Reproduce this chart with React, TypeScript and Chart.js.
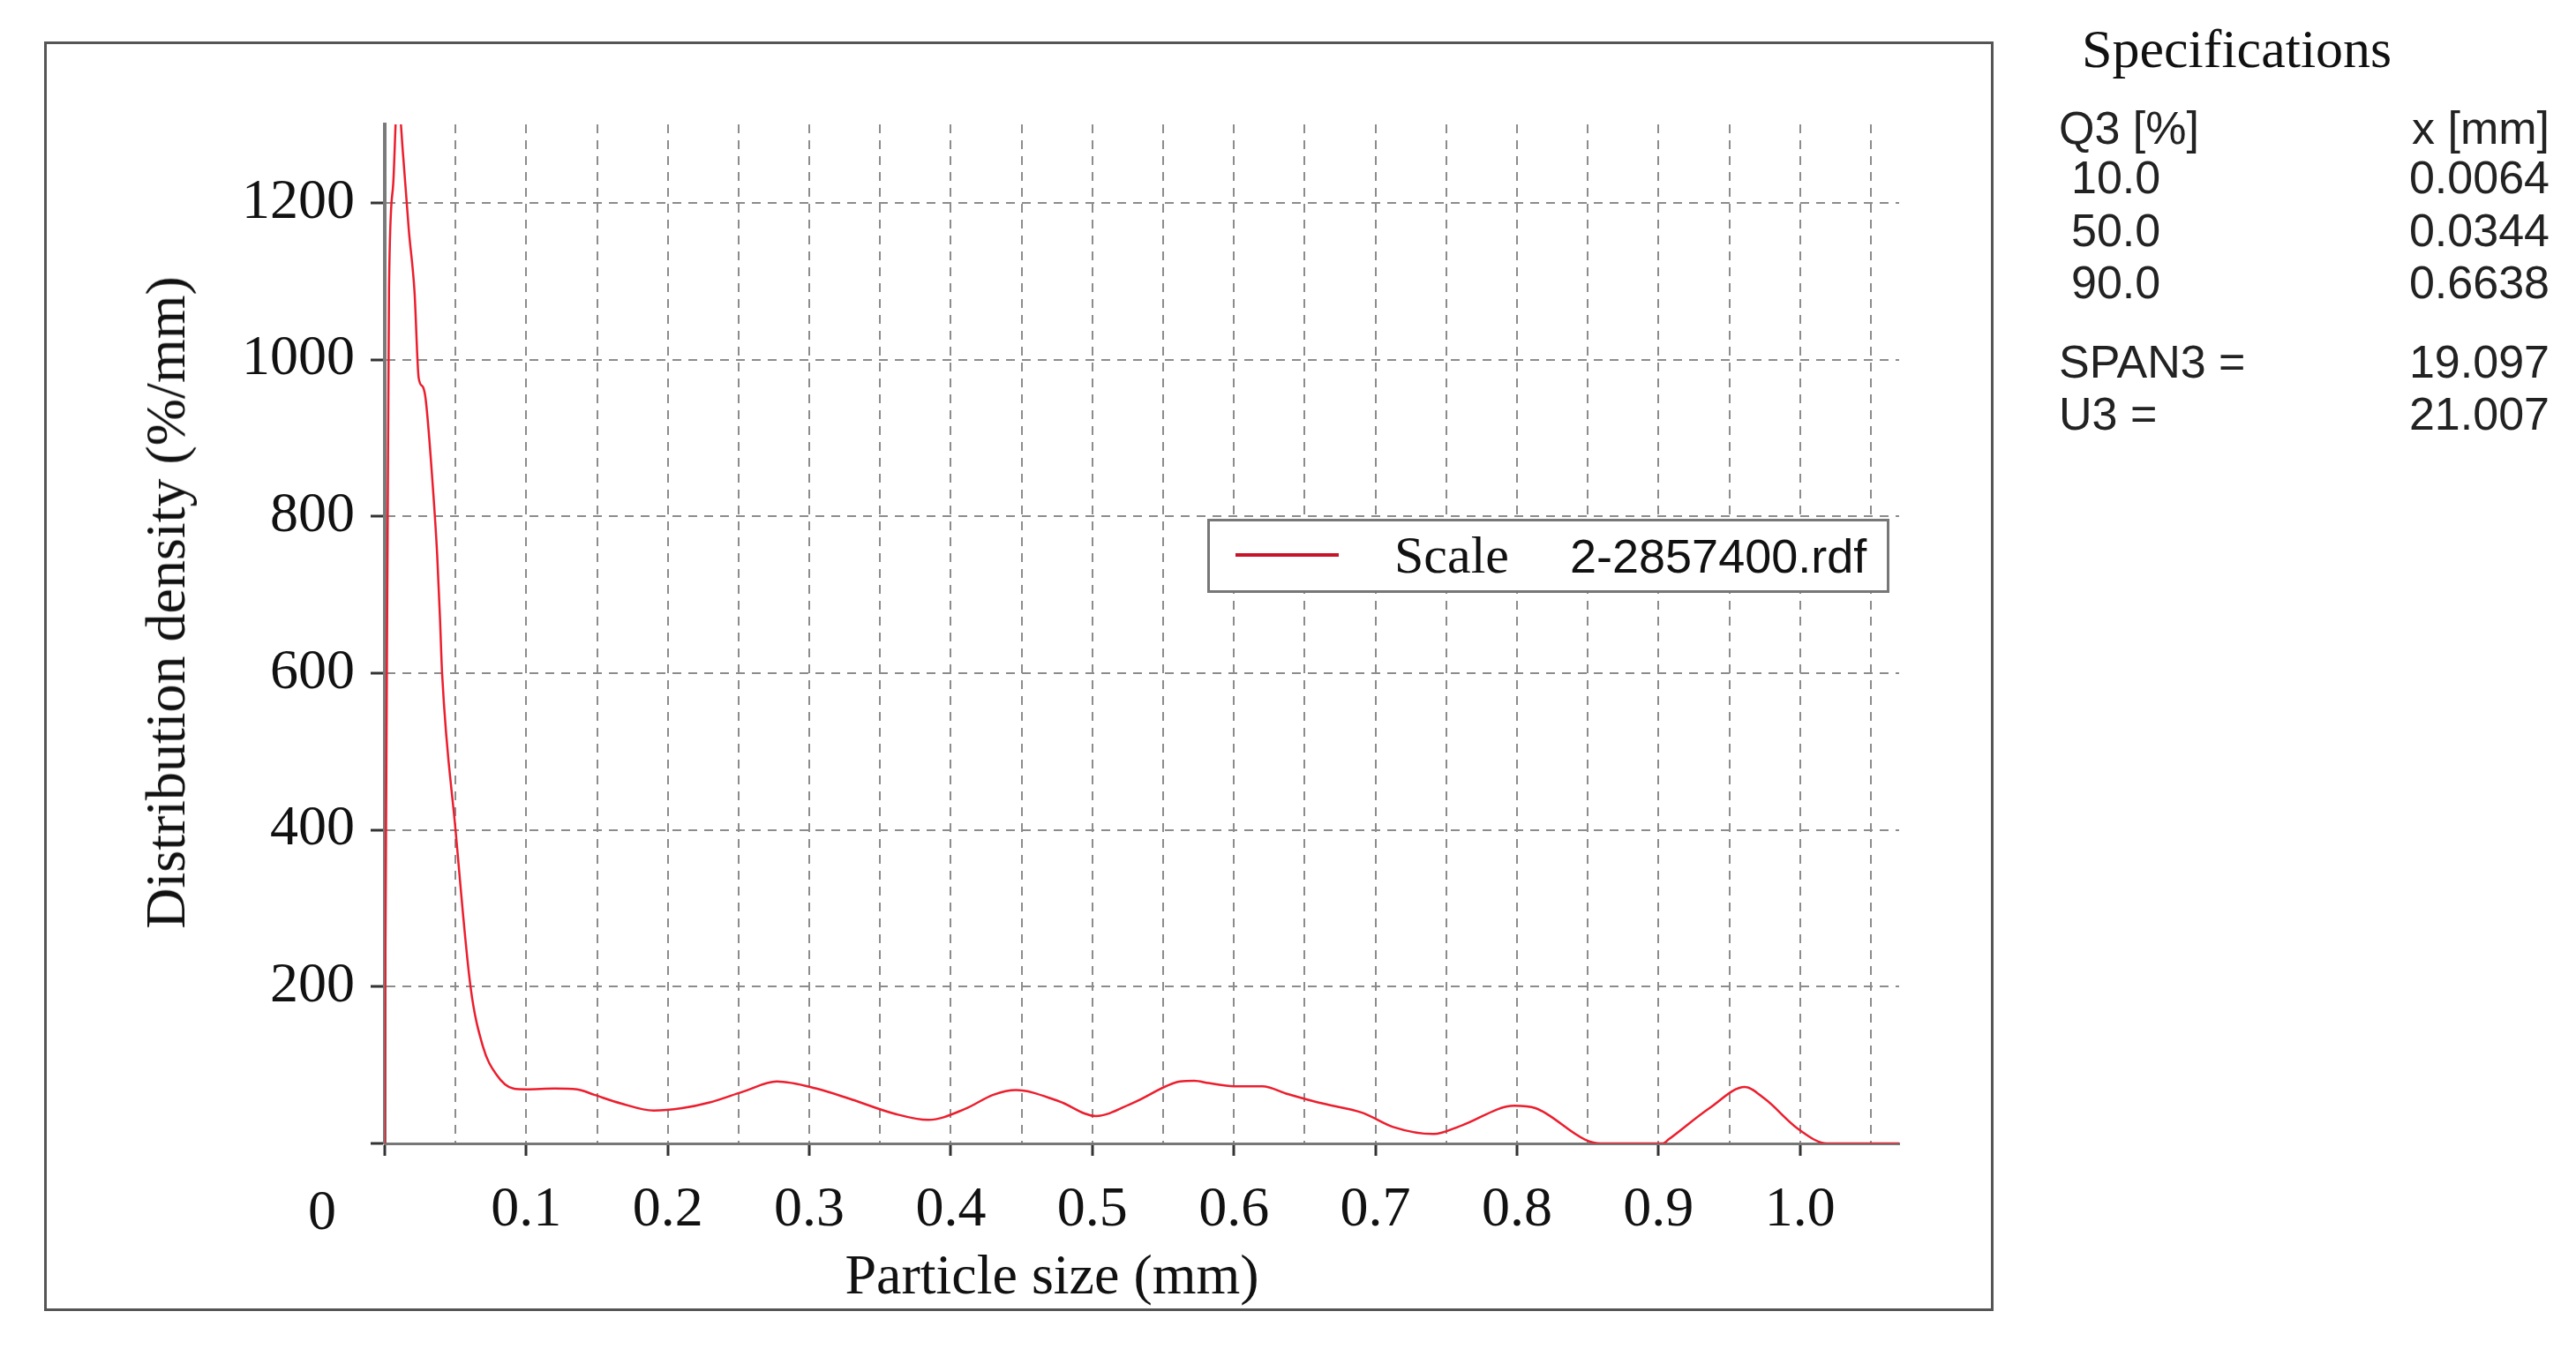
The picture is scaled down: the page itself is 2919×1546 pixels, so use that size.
import React, { useEffect, useRef } from 'react';
import { Chart, registerables } from 'chart.js';

Chart.register(...registerables);

// Particle size (mm)
const sizeMm = [
  0, 0.0005, 0.002, 0.003, 0.006, 0.009, 0.013, 0.017, 0.021, 0.024, 0.027, 0.029,
  0.034, 0.037, 0.039, 0.0405, 0.050, 0.0606, 0.0693, 0.0788, 0.0908, 0.10, 0.12,
  0.136, 0.148, 0.167, 0.19, 0.21, 0.229, 0.253, 0.277, 0.305, 0.33, 0.36, 0.384,
  0.41, 0.43, 0.446, 0.476, 0.5025, 0.529, 0.562, 0.572, 0.582, 0.60, 0.62, 0.638,
  0.66, 0.691, 0.7125, 0.741, 0.761, 0.798, 0.813, 0.848, 0.859, 0.903, 0.907,
  0.936, 0.961, 0.975, 0.999, 1.019, 1.07,
];
// Distribution density (%/mm)
const density = [
  0, 260, 770, 1090, 1225, 1340, 1260, 1165, 1087, 976, 965, 948,
  837, 752, 671, 600, 400, 200, 124, 88, 70, 69, 70,
  69, 62, 51, 42, 45, 52, 66, 79, 70, 56, 38, 30,
  44, 62, 68, 54, 35, 52, 79, 80, 77, 73, 73, 63,
  52, 39, 21, 12, 23, 48, 45, 5, 0, 0, 5,
  45, 72, 57, 18, 0, 0,
];

const yTickValues = [0, 200, 400, 600, 800, 1000, 1200];
const xGridValues = [
  0, 0.05, 0.1, 0.15, 0.2, 0.25, 0.3, 0.35, 0.4, 0.45, 0.5, 0.55, 0.6, 0.65,
  0.7, 0.75, 0.8, 0.85, 0.9, 0.95, 1.0, 1.05,
];
const xMax = 1.07;
const yMax = 1300;

const seriesLabel = 'Scale';
const seriesFile = '2-2857400.rdf';
const specTitle = 'Specifications';
const specHeader = ['Q3 [%]', 'x [mm]'];
const specQ3 = ['10.0', '50.0', '90.0'];
const specX = ['0.0064', '0.0344', '0.6638'];
const statNames = ['SPAN3 =', 'U3 ='];
const statValues = ['19.097', '21.007'];

const SERIF = '"Liberation Serif", "Times New Roman", serif';
const SANS = '"Liberation Sans", Arial, sans-serif';

export default function App() {
  const canvasRef = useRef<HTMLCanvasElement | null>(null);

  useEffect(() => {
    const canvas = canvasRef.current;
    if (!canvas) return;
    const points = sizeMm.map((x, i) => ({ x, y: density[i] }));
    const chart = new Chart(canvas, {
      type: 'line',
      data: {
        datasets: [
          {
            label: seriesLabel,
            data: points,
            borderColor: 'rgb(236,30,45)',
            borderWidth: 2.5,
            pointRadius: 0,
            fill: false,
            cubicInterpolationMode: 'monotone',
          },
        ],
      },
      options: {
        responsive: false,
        animation: false,
        devicePixelRatio: 1,
        layout: { padding: { left: 216, top: 141, right: 767, bottom: 150 } },
        plugins: { legend: { display: false }, tooltip: { enabled: false } },
        scales: {
          x: {
            type: 'linear',
            min: 0,
            max: xMax,
            afterBuildTicks: (scale: any) => {
              scale.ticks = xGridValues.map((v) => ({ value: v }));
            },
            afterFit: (scale: any) => {
              scale.height = 100;
            },
            ticks: {
              autoSkip: false,
              maxRotation: 0,
              padding: 24,
              color: '#111',
              font: { family: SERIF, size: 64 },
              callback: (v: any) => {
                const k = Math.round(Number(v) * 20);
                if (k === 0 || k % 2 !== 0) return '';
                return (k / 20).toFixed(1);
              },
            },
            grid: {
              color: '#8c8c8c',
              lineWidth: 2,
              drawTicks: true,
              tickLength: 14,
              tickWidth: 3,
              tickBorderDash: [],
              tickColor: (ctx: any) => {
                const v = ctx.tick ? ctx.tick.value : 0;
                return Math.round(v * 20) % 2 === 0 ? '#333' : 'rgba(0,0,0,0)';
              },
            },
            border: { display: true, color: '#777', width: 3, dash: [10, 8] },
          },
          y: {
            type: 'linear',
            min: 0,
            max: yMax,
            afterBuildTicks: (scale: any) => {
              scale.ticks = yTickValues.map((v) => ({ value: v }));
            },
            afterFit: (scale: any) => {
              scale.width = 220;
            },
            ticks: {
              padding: 18,
              color: '#111',
              font: { family: SERIF, size: 64 },
              callback: (v: any) => (Number(v) === 0 ? '' : String(v)),
            },
            grid: {
              color: '#8c8c8c',
              lineWidth: 2,
              drawTicks: true,
              tickLength: 16,
              tickWidth: 3,
              tickBorderDash: [],
              tickColor: '#333',
            },
            border: { display: true, color: '#7a7a7a', width: 4, dash: [10, 8] },
          },
        },
      },
    });
    return () => chart.destroy();
  }, []);

  const abs = (extra: any) => ({ position: 'absolute' as const, whiteSpace: 'nowrap' as const, lineHeight: 1, ...extra });

  return (
    <div style={{ position: 'absolute', left: 0, top: 0, width: 2919, height: 1546, background: '#fff', overflow: 'hidden' }}>
      <div style={{ position: 'absolute', left: 50, top: 47, width: 2209, height: 1439, border: '3px solid #555', boxSizing: 'border-box' }} />
      <canvas ref={canvasRef} width={2919} height={1546} style={{ position: 'absolute', left: 0, top: 0 }} />

      {/* axis titles */}
      <div style={abs({ left: 188, top: 683, transform: 'translate(-50%, -50%) rotate(-90deg)', fontFamily: SERIF, fontSize: 64, color: '#111' })}>
        Distribution density (%/mm)
      </div>
      <div style={abs({ left: 1192, top: 1445, transform: 'translate(-50%, -50%)', fontFamily: SERIF, fontSize: 64, color: '#111' })}>
        Particle size (mm)
      </div>
      <div style={abs({ left: 365, top: 1372, transform: 'translate(-50%, -50%)', fontFamily: SERIF, fontSize: 64, color: '#111' })}>
        0
      </div>

      {/* legend */}
      <div style={{ position: 'absolute', left: 1368, top: 588, width: 773, height: 84, border: '3px solid #777', background: '#fff', boxSizing: 'border-box' }}>
        <div style={{ position: 'absolute', left: 29, top: 36, width: 117, height: 4, background: 'rgb(200,20,40)' }} />
        <div style={abs({ left: 209, top: 8, fontFamily: SERIF, fontSize: 60, color: '#111' })}>{seriesLabel}</div>
        <div style={abs({ left: 408, top: 12, fontFamily: SANS, fontSize: 54, color: '#111' })}>{seriesFile}</div>
      </div>

      {/* specifications */}
      <div style={abs({ left: 2359, top: 24, fontFamily: SERIF, fontSize: 62, color: '#111' })}>{specTitle}</div>
      <div style={abs({ left: 2333, top: 119, fontFamily: SANS, fontSize: 52, color: '#222' })}>{specHeader[0]}</div>
      <div style={abs({ right: 30, top: 119, fontFamily: SANS, fontSize: 52, color: '#222' })}>{specHeader[1]}</div>
      {specQ3.map((q, i) => (
        <React.Fragment key={q}>
          <div style={abs({ left: 2347, top: 175 + i * 59.5, fontFamily: SANS, fontSize: 52, color: '#222' })}>{q}</div>
          <div style={abs({ right: 30, top: 175 + i * 59.5, fontFamily: SANS, fontSize: 52, color: '#222' })}>{specX[i]}</div>
        </React.Fragment>
      ))}
      {statNames.map((n, i) => (
        <React.Fragment key={n}>
          <div style={abs({ left: 2333, top: 384 + i * 59, fontFamily: SANS, fontSize: 52, color: '#222' })}>{n}</div>
          <div style={abs({ right: 30, top: 384 + i * 59, fontFamily: SANS, fontSize: 52, color: '#222' })}>{statValues[i]}</div>
        </React.Fragment>
      ))}
    </div>
  );
}
